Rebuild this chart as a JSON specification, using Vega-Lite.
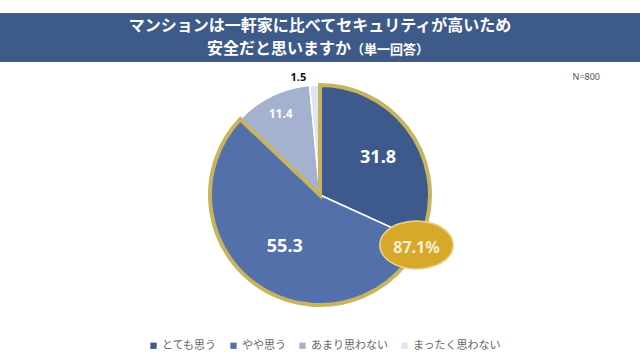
{
  "$schema": "https://vega.github.io/schema/vega-lite/v6.json",
  "background": "white",
  "padding": {"top": 13, "left": 0, "right": 0, "bottom": 0},
  "spacing": 0,
  "config": {
    "view": {"stroke": null},
    "font": "Noto Sans CJK JP",
    "concat": {"spacing": 0}
  },
  "vconcat": [
    {
      "width": 640,
      "height": 49,
      "view": {"fill": "#3e5a88", "stroke": null},
      "data": {"values": [{"line1": "マンションは一軒家に比べてセキュリティが高いため", "line2a": "安全だと思いますか", "line2b": "（単一回答）"}]},
      "layer": [
        {"mark": {"type": "text", "color": "white", "fontSize": 16, "fontWeight": "bold", "baseline": "middle", "dy": -11.5}, "encoding": {"text": {"field": "line1"}}},
        {"mark": {"type": "text", "color": "white", "fontSize": 16, "fontWeight": "bold", "baseline": "middle", "align": "right", "dx": 31, "dy": 11.5}, "encoding": {"text": {"field": "line2a"}}},
        {"mark": {"type": "text", "color": "white", "fontSize": 13, "fontWeight": "bold", "baseline": "middle", "align": "left", "dx": 31, "dy": 12}, "encoding": {"text": {"field": "line2b"}}}
      ]
    },
    {
      "width": 640,
      "height": 266,
      "title": {"text": "N=800", "anchor": "end", "frame": "group", "offset": -20, "dx": -40, "fontSize": 9, "fontWeight": "normal", "color": "#555555", "font": "Noto Sans"},
      "data": {"values": [
        {"回答": "とても思う", "value": 31.8, "no": 1},
        {"回答": "やや思う", "value": 55.3, "no": 2},
        {"回答": "あまり思わない", "value": 11.4, "no": 3},
        {"回答": "まったく思わない", "value": 1.5, "no": 4}
      ]},
      "layer": [
        {
          "mark": {"type": "arc", "outerRadius": 110, "stroke": "white", "strokeWidth": 1.5},
          "encoding": {
            "theta": {"field": "value", "type": "quantitative", "stack": true, "scale": {"domain": [0, 100]}},
            "order": {"field": "no", "type": "quantitative"},
            "color": {
              "field": "回答", "type": "nominal",
              "scale": {"domain": ["とても思う", "やや思う", "あまり思わない", "まったく思わない"], "range": ["#3e5a8c", "#5470ab", "#a4b1cf", "#dfe5f0"]},
              "legend": {"orient": "none", "legendX": 148, "legendY": 327, "direction": "horizontal", "title": null, "symbolType": "square", "symbolSize": 40, "symbolStrokeWidth": 0, "labelFontSize": 11, "labelColor": "#666666", "columnPadding": 11, "labelOffset": 3}
            }
          }
        },
        {
          "data": {"values": [{"区分": "肯定計", "value": 87.1}]},
          "mark": {"type": "arc", "outerRadius": 110, "fillOpacity": 0, "stroke": "#c6b45e", "strokeWidth": 4, "strokeJoin": "miter"},
          "encoding": {
            "theta": {"field": "value", "type": "quantitative", "stack": true, "scale": {"domain": [0, 100]}}
          }
        },
        {
          "mark": {"type": "text", "radius": 69, "fontSize": 18, "fontWeight": "bold", "color": "white", "font": "Noto Sans"},
          "encoding": {
            "theta": {"field": "value", "type": "quantitative", "stack": true, "scale": {"domain": [0, 100]}},
            "order": {"field": "no", "type": "quantitative"},
            "text": {"condition": {"test": "datum.no == 1", "field": "value", "format": ".1f"}, "value": ""}
          }
        },
        {
          "mark": {"type": "text", "radius": 63, "fontSize": 18, "fontWeight": "bold", "color": "white", "font": "Noto Sans"},
          "encoding": {
            "theta": {"field": "value", "type": "quantitative", "stack": true, "scale": {"domain": [0, 100]}},
            "order": {"field": "no", "type": "quantitative"},
            "text": {"condition": {"test": "datum.no == 2", "field": "value", "format": ".1f"}, "value": ""}
          }
        },
        {
          "mark": {"type": "text", "radius": 90, "fontSize": 12, "fontWeight": "bold", "color": "white", "font": "Noto Sans"},
          "encoding": {
            "theta": {"field": "value", "type": "quantitative", "stack": true, "scale": {"domain": [0, 100]}},
            "order": {"field": "no", "type": "quantitative"},
            "text": {"condition": {"test": "datum.no == 3", "field": "value", "format": ".1f"}, "value": ""}
          }
        },
        {
          "mark": {"type": "text", "radius": 120, "dx": -16, "dy": 3, "fontSize": 11, "fontWeight": "bold", "color": "#111111", "font": "Noto Sans"},
          "encoding": {
            "theta": {"field": "value", "type": "quantitative", "stack": true, "scale": {"domain": [0, 100]}},
            "order": {"field": "no", "type": "quantitative"},
            "text": {"condition": {"test": "datum.no == 4", "field": "value", "format": ".1f"}, "value": ""}
          }
        },
        {
          "data": {"values": [{"区分": "とても思う", "value": 31.8, "badge": "⬬", "label": "87.1%"}]},
          "layer": [
            {
              "mark": {"type": "text", "radius": 106, "dy": 8, "fontSize": 90, "color": "#d8a82a", "stroke": "#e8d28a", "strokeWidth": 1.5, "font": "DejaVu Sans", "baseline": "middle"},
              "encoding": {
                "theta": {"field": "value", "type": "quantitative", "stack": null, "scale": {"domain": [0, 100]}},
                "text": {"field": "badge"}
              }
            },
            {
              "mark": {"type": "text", "radius": 106, "dy": 9, "fontSize": 16, "fontWeight": "bold", "color": "#f7efd2", "font": "Noto Sans", "baseline": "middle"},
              "encoding": {
                "theta": {"field": "value", "type": "quantitative", "stack": null, "scale": {"domain": [0, 100]}},
                "text": {"field": "label"}
              }
            }
          ]
        }
      ]
    }
  ]
}
